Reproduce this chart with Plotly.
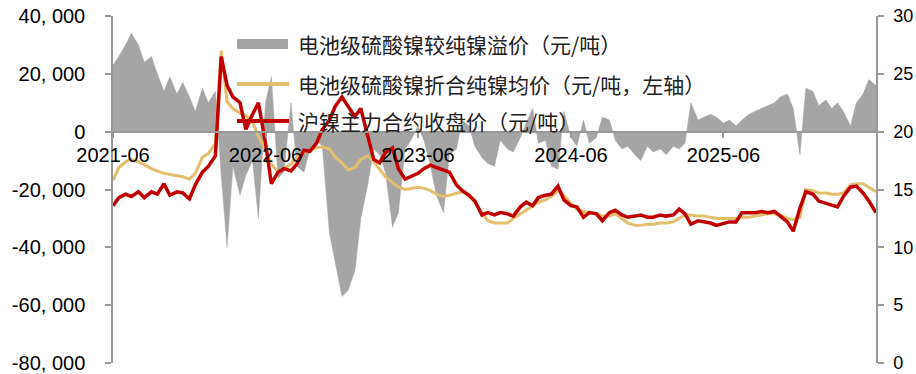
import pandas as pd
import plotly.graph_objects as go

# semi-monthly observation dates (1st and 15th of each month)
dates = pd.date_range("2021-06-01", periods=121, freq="SMS")

# 电池级硫酸镍较纯镍溢价（元/吨）, thousands of yuan
premium_k = [
    23, 26, 30, 34, 30, 24, 26, 20, 14, 19, 13, 17, 12, 7, 15, 10, 14,
    -15, -40, -12, -22, -15, -10, -30, 10, 19, -16, -14, 10, -12, -14, -6, -3, -5,
    -35, -45, -57, -55, -48, -30, -18, -6, -8, -14, -33, -28, -6, -3, 2, -3,
    -12, -22, -28, -8, -6, 4, 2, -5, -9, -11, -12, -3, -6, -7, -2, 3, 8, -4,
    -3, -12, -13, 7, -2, -5, 4, -4, -2, 5, 4, -3, -6, -5, -8, -10, -5, -7,
    -6, -8, -5, -6, -4, 10, 4, 5, 6, 5, 3, 4, 2, 4, 6, 7, 8, 9, 10, 12, 13,
    8, -8, 15, 14, 9, 11, 8, 10, 7, 2, 10, 13, 18, 16,
]
premium = [v * 1000 for v in premium_k]

# 电池级硫酸镍折合纯镍均价（万元/吨）
sulfate_ni = [
    15.8, 16.9, 17.4, 17.6, 17.4, 17.1, 16.8, 16.6, 16.4, 16.3, 16.2, 16.1, 15.9, 16.4, 17.8, 18.1, 19.0,
    27.0, 22.6, 22.0, 21.6, 21.4, 20.8, 19.6, 18.4, 17.2, 16.5, 16.8, 17.2, 17.8, 18.2, 18.4, 18.6, 18.7,
    18.5, 17.8, 17.3, 16.7, 16.9, 17.6, 17.9, 17.4, 16.7, 16.1, 15.6, 15.2, 15.0, 15.1, 15.2, 15.1,
    14.9, 14.6, 14.4, 14.5, 14.7, 14.8, 14.5, 13.9, 13.0, 12.3, 12.1, 12.1, 12.1, 12.5, 12.9, 13.2, 13.6, 13.9,
    14.1, 14.4, 14.9, 14.5, 13.8, 13.3, 13.1, 13.0, 12.9, 12.7, 12.7, 12.9, 12.5, 12.1, 11.9, 11.9, 12.0, 12.0,
    12.1, 12.1, 12.2, 12.5, 12.8, 12.8, 12.7, 12.7, 12.6, 12.5, 12.5, 12.5, 12.5, 12.6, 12.6, 12.7, 12.8, 12.9, 12.9, 12.8, 12.5,
    12.4, 12.6, 15.0, 14.9, 14.7, 14.7, 14.6, 14.6, 14.7, 15.4, 15.5, 15.5, 15.2, 14.8,
]

# 沪镍主力合约收盘价（万元/吨）
shfe_ni = [
    13.6, 14.3, 14.6, 14.4, 14.8, 14.3, 14.8, 14.6, 15.5, 14.5, 14.8, 14.7, 14.2, 15.4, 16.5, 17.0, 17.9,
    26.5, 24.0, 23.0, 22.5, 20.2, 21.5, 22.5, 19.0, 15.5, 16.5, 16.8, 16.6, 17.2, 18.4, 18.3, 19.0, 20.2,
    21.0, 22.2, 23.0, 22.2, 21.3, 22.0, 19.5, 17.6, 17.3, 18.2, 18.6, 16.8, 15.9, 16.1, 16.4, 16.8,
    17.1, 16.9, 16.7, 16.5, 15.4, 14.9, 14.5, 14.0, 12.8, 13.0, 12.8, 13.0, 12.9, 12.7, 13.5, 13.9, 13.6, 14.3,
    14.5, 14.6, 15.3, 14.1, 13.6, 13.5, 12.6, 13.0, 12.9, 12.3, 13.0, 13.2, 12.8, 12.6, 12.7, 12.8, 12.6, 12.6,
    12.8, 12.7, 12.8, 13.3, 12.9, 12.0, 12.3, 12.2, 12.1, 11.9, 12.1, 12.2, 12.2, 13.0, 13.0, 13.0, 13.1, 13.0, 13.1, 12.7, 12.2,
    11.4, 13.4, 14.8, 14.6, 14.0, 13.8, 13.6, 13.5, 14.4, 15.2, 15.3, 14.7, 14.0, 13.0,
]

series_names = [
    "电池级硫酸镍较纯镍溢价（元/吨）",
    "电池级硫酸镍折合纯镍均价（元/吨，左轴）",
    "沪镍主力合约收盘价（元/吨）",
]

x_tick_vals = ["2021-06-01", "2022-06-01", "2023-06-01", "2024-06-01", "2025-06-01"]
x_tick_text = ["2021-06", "2022-06", "2023-06", "2024-06", "2025-06"]
y_tick_vals = [-80000, -60000, -40000, -20000, 0, 20000, 40000]
y_tick_text = ["-80, 000", "-60, 000", "-40, 000", "-20, 000", "0", "20, 000", "40, 000"]
y2_tick_vals = [0, 5, 10, 15, 20, 25, 30]

GRAY = "#a5a5a5"
GOLD = "#e3bf6d"
RED = "#c00000"
AXIS = "#999999"
TICKFONT = dict(family="Liberation Sans, Arial, sans-serif", size=20, color="#000000")
TICKFONT_R = dict(family="Liberation Sans, Arial, sans-serif", size=18, color="#000000")
CJK = "Noto Sans CJK SC, sans-serif"

fig = go.Figure()
fig.add_trace(go.Scatter(
    x=dates, y=premium, name=series_names[0], mode="lines",
    line=dict(color=GRAY, width=0.5), fill="tozeroy", fillcolor=GRAY,
    yaxis="y", showlegend=False,
))
fig.add_trace(go.Scatter(
    x=dates, y=sulfate_ni, name=series_names[1], mode="lines",
    line=dict(color=GOLD, width=3), yaxis="y2", showlegend=False,
))
fig.add_trace(go.Scatter(
    x=dates, y=shfe_ni, name=series_names[2], mode="lines",
    line=dict(color=RED, width=3.5), yaxis="y2", showlegend=False,
))

# full-window figure (page body margin removed below); plot area at x 113-876, y 16-363
W, H = 916, 374
L, R, T, B = 113, 40, 16, 11
pw, ph = W - L - R, H - T - B

def px_x(px):
    return (px - L) / pw

def px_y(py):
    return (H - B - py) / ph

# legend drawn in place (symbols + text)
shapes = [
    dict(type="rect", xref="paper", yref="paper", x0=px_x(237), x1=px_x(288),
         y0=px_y(49), y1=px_y(39), fillcolor=GRAY, line=dict(width=0), layer="above"),
    dict(type="line", xref="paper", yref="paper", x0=px_x(237), x1=px_x(289),
         y0=px_y(84), y1=px_y(84), line=dict(color=GOLD, width=4), layer="above"),
    dict(type="line", xref="paper", yref="paper", x0=px_x(237), x1=px_x(289),
         y0=px_y(121), y1=px_y(121), line=dict(color=RED, width=4), layer="above"),
]
annotations = [
    dict(xref="paper", yref="paper", x=px_x(296), y=px_y(yy), text=t, showarrow=False,
         xanchor="left", yanchor="middle", font=dict(family=CJK, size=21, color="#222222"))
    for t, yy in zip(series_names, [44, 84, 121])
]

ymin, ymax = -80000, 40000
fig.update_layout(
    width=W, height=H,
    margin=dict(l=L, r=R, t=T, b=B, pad=0, autoexpand=False),
    paper_bgcolor="white", plot_bgcolor="white",
    showlegend=False,
    shapes=shapes, annotations=annotations,
    xaxis=dict(
        type="date", range=["2021-06-01", "2026-06-01"],
        tickvals=x_tick_vals, ticktext=x_tick_text,
        anchor="free", position=(0 - ymin) / (ymax - ymin),
        showline=True, linecolor=AXIS, linewidth=2,
        ticks="outside", ticklen=5, tickcolor=AXIS, tickwidth=1.5,
        showgrid=False, zeroline=False, tickfont=TICKFONT, automargin=False,
        ticklabeloverflow="allow",
    ),
    yaxis=dict(
        range=[ymin, ymax], tickvals=y_tick_vals, ticktext=y_tick_text,
        showline=True, linecolor=AXIS, linewidth=1.5,
        ticks="outside", ticklen=6, tickcolor=AXIS, tickwidth=1.5,
        ticklabelstandoff=16, ticklabeloverflow="allow",
        showgrid=False, zeroline=False, tickfont=TICKFONT, automargin=False,
    ),
    yaxis2=dict(
        range=[0, 30], tickvals=y2_tick_vals, overlaying="y", side="right",
        showline=True, linecolor=AXIS, linewidth=1.5,
        ticks="outside", ticklen=6, tickcolor=AXIS, tickwidth=1.5,
        ticklabelstandoff=6, ticklabeloverflow="allow",
        showgrid=False, zeroline=False, tickfont=TICKFONT_R, automargin=False,
    ),
)

fig.write_html(
    "out.html",
    config={"displayModeBar": False},
    post_script="document.body.style.margin='0px';",
)
